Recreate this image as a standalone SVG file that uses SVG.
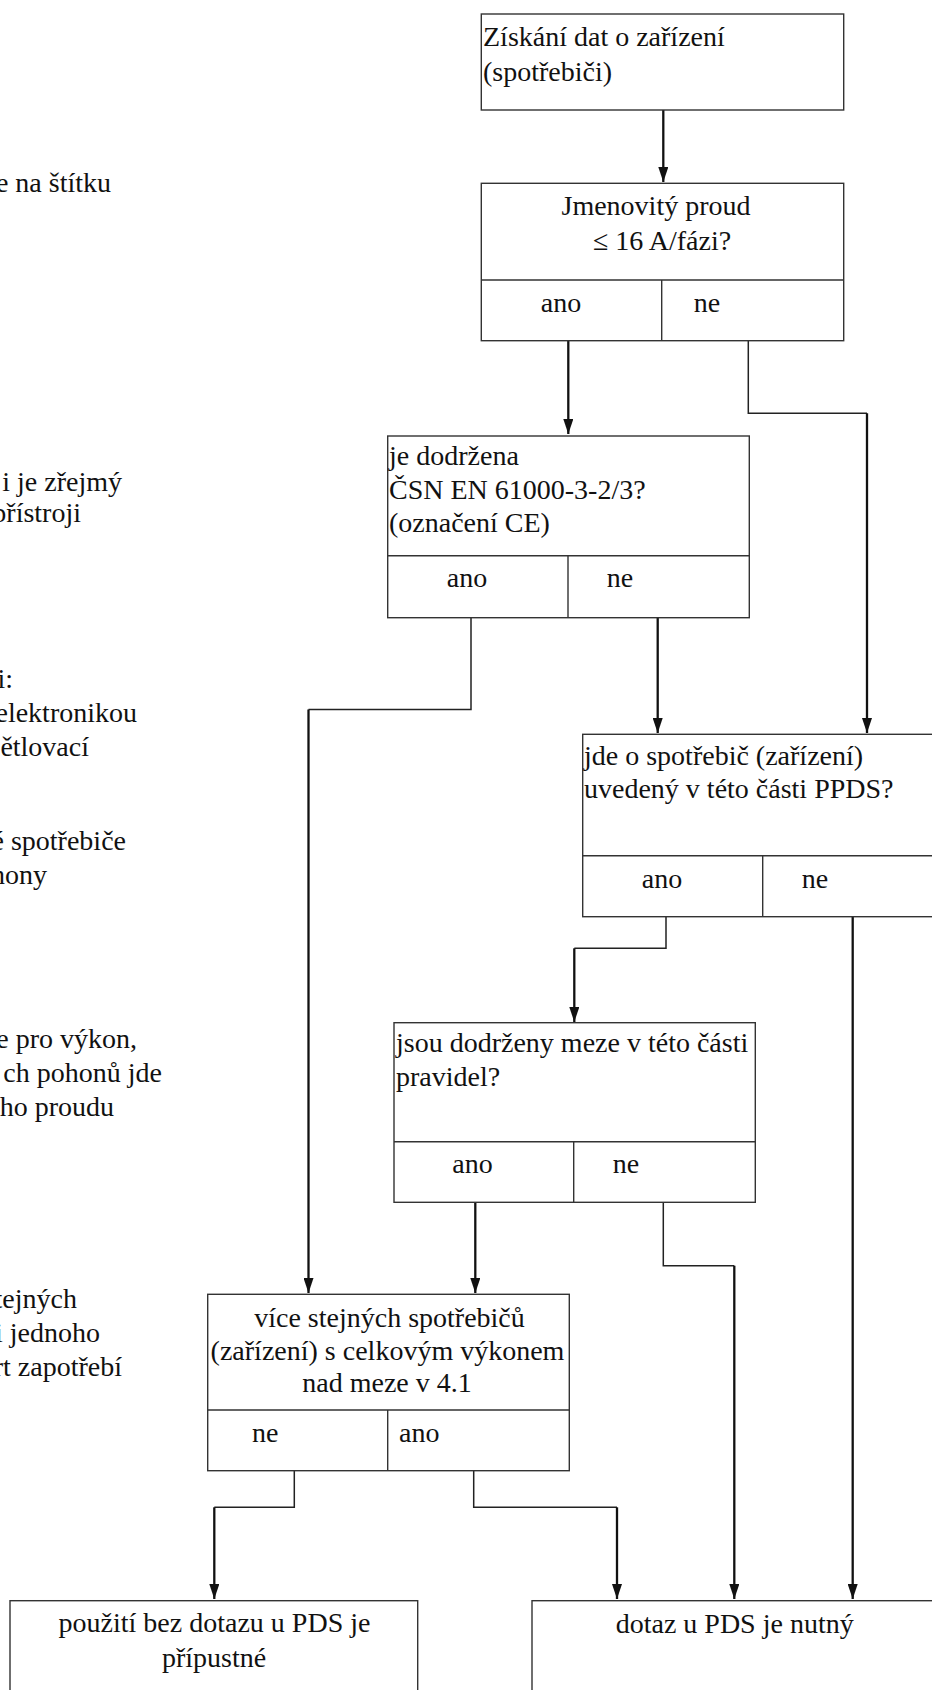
<svg xmlns="http://www.w3.org/2000/svg" width="932" height="1690" viewBox="0 0 932 1690">
<style>
text{font-family:"Liberation Serif","Times New Roman",serif;font-size:28px;fill:#111}
.c{text-anchor:middle}
.e{text-anchor:end}
.box{fill:#fff;stroke:#333;stroke-width:1.4}
.div{fill:none;stroke:#333;stroke-width:1.4}
.thin{fill:none;stroke:#222;stroke-width:1.5}
.arr{fill:none;stroke:#111;stroke-width:2.3;marker-end:url(#ah)}
</style>
<defs>
<marker id="ah" viewBox="0 0 10 15" refX="5" refY="15" markerWidth="10" markerHeight="15" markerUnits="userSpaceOnUse" orient="0">
<path d="M0,0 L10,0 L5,15 z" fill="#111"/>
</marker>
</defs>
<rect width="932" height="1690" fill="#fff"/>

<g id="notes">
<text class="e" x="111" y="192">e na štítku</text>
<text class="e" x="122" y="491">i je zřejmý</text>
<text class="e" x="81" y="522">přístroji</text>
<text class="e" x="13" y="688">i:</text>
<text class="e" x="137" y="722">elektronikou</text>
<text class="e" x="89" y="756">ětlovací</text>
<text class="e" x="126" y="850">é spotřebiče</text>
<text class="e" x="47" y="884">hony</text>
<text class="e" x="137" y="1048">e pro výkon,</text>
<text class="e" x="162" y="1082">ch pohonů jde</text>
<text class="e" x="114" y="1116">ho proudu</text>
<text class="e" x="77" y="1308">tejných</text>
<text class="e" x="100" y="1342">i jednoho</text>
<text class="e" x="122" y="1376">rt zapotřebí</text>
</g>

<g id="connectors">
<path class="arr" d="M663.3,110 V182"/>
<path class="arr" d="M568.3,341 V434"/>
<path class="thin" d="M748.3,341 V413.3 H867"/>
<path class="arr" d="M867,413.3 V733"/>
<path class="thin" d="M471,618 V709.5 H308.5"/>
<path class="arr" d="M308.5,709.5 V1293"/>
<path class="arr" d="M657.7,618 V733"/>
<path class="thin" d="M666,917 V948.3 H574.3"/>
<path class="arr" d="M574.3,948.3 V1022"/>
<path class="arr" d="M852.7,915 V1599"/>
<path class="arr" d="M475.3,1202.5 V1293"/>
<path class="thin" d="M663.3,1202.5 V1265.7 H734.3"/>
<path class="arr" d="M734.3,1265.7 V1599"/>
<path class="thin" d="M473.7,1452 V1507.3 H617"/>
<path class="arr" d="M617,1507.3 V1599"/>
<path class="thin" d="M294.3,1452 V1507.3 H214.3"/>
<path class="arr" d="M214.3,1507.3 V1599"/>
</g>

<g id="n1">
<rect class="box" x="481.3" y="14" width="362.4" height="96"/>
<text x="483" y="46">Získání dat o zařízení</text>
<text x="483" y="81">(spotřebiči)</text>
</g>

<g id="n2">
<rect class="box" x="481.3" y="183.3" width="362.4" height="157.4"/>
<path class="div" d="M481.3,280 H843.7 M661.7,280 V340.7"/>
<text class="c" x="656" y="215">Jmenovitý proud</text>
<text class="c" x="662" y="250">≤ 16 A/fázi?</text>
<text class="c" x="561" y="312">ano</text>
<text class="c" x="707" y="312">ne</text>
</g>

<g id="n3">
<rect class="box" x="387.7" y="436" width="361.6" height="181.7"/>
<path class="div" d="M387.7,555.7 H749.3 M568,555.7 V617.7"/>
<text x="389" y="465">je dodržena</text>
<text x="389" y="499">ČSN EN 61000-3-2/3?</text>
<text x="389" y="532">(označení CE)</text>
<text class="c" x="467" y="587">ano</text>
<text class="c" x="620" y="587">ne</text>
</g>

<g id="n4">
<rect class="box" x="582.7" y="734.3" width="362" height="182.4"/>
<path class="div" d="M582.7,855.7 H944 M762.7,855.7 V916.7"/>
<text x="584" y="765">jde o spotřebič (zařízení)</text>
<text x="584" y="798">uvedený v této části PPDS?</text>
<text class="c" x="662" y="888">ano</text>
<text class="c" x="815" y="888">ne</text>
</g>

<g id="n5">
<rect class="box" x="394" y="1022.7" width="361.3" height="179.6"/>
<path class="div" d="M394,1141.7 H755.3 M573.7,1141.7 V1202.3"/>
<text x="396" y="1052">jsou dodrženy meze v této části</text>
<text x="396" y="1086">pravidel?</text>
<text class="c" x="472.5" y="1173">ano</text>
<text class="c" x="626" y="1173">ne</text>
</g>

<g id="n6">
<rect class="box" x="207.7" y="1294.3" width="361.6" height="176.4"/>
<path class="div" d="M207.7,1410 H569.3 M387.7,1410 V1470.7"/>
<text class="c" x="389.5" y="1327">více stejných spotřebičů</text>
<text class="c" x="387.5" y="1360">(zařízení) s celkovým výkonem</text>
<text class="c" x="387" y="1392">nad meze v 4.1</text>
<text class="c" x="265.3" y="1442">ne</text>
<text x="399" y="1442">ano</text>
</g>

<g id="n7">
<rect class="box" x="10" y="1600.7" width="407.7" height="120"/>
<text class="c" x="214.5" y="1632">použití bez dotazu u PDS je</text>
<text class="c" x="214" y="1667">přípustné</text>
</g>

<g id="n8">
<rect class="box" x="532" y="1600.7" width="420" height="120"/>
<text class="c" x="734.7" y="1633">dotaz u PDS je nutný</text>
</g>
</svg>
